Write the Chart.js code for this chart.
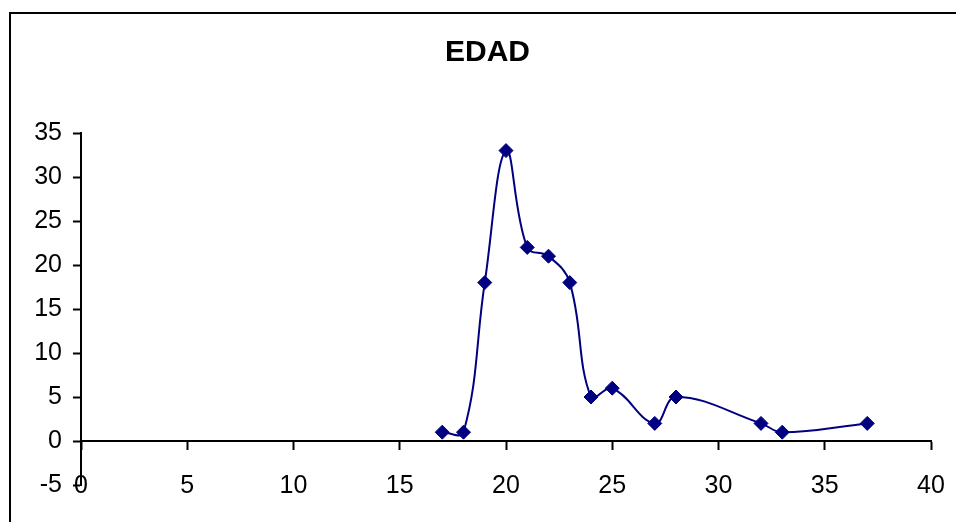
<!DOCTYPE html>
<html>
<head>
<meta charset="utf-8">
<script src="https://cdn.jsdelivr.net/npm/chart.js@4.4.1/dist/chart.umd.min.js"></script>
<style>
    html, body { margin: 0; padding: 0; background: #fff; overflow: hidden; }
    #frame { position: absolute; left: 9px; top: 12px; width: 1100px; height: 700px; border: 2px solid #000; }
    #wrap { position: absolute; left: 0; top: 0; width: 956px; height: 522px; }
</style>
</head>
<body>
<div id="frame"></div>
<div id="wrap"><canvas id="chart" width="956" height="522"></canvas></div>
<script>
// EDAD - values
const edades = [17, 18, 19, 20, 21, 22, 23, 24, 25, 27, 28, 32, 33, 37];
const frecuencias = [1, 1, 18, 33, 22, 21, 18, 5, 6, 2, 5, 2, 1, 2];
const xTicks = [0, 5, 10, 15, 20, 25, 30, 35, 40];
const yTicks = [-5, 0, 5, 10, 15, 20, 25, 30, 35];

const NAVY = '#000080';
const FONT = '"Liberation Sans", Arial, sans-serif';

// no automatic label overflow padding, the layout padding handles it
function noPadding(scale) {
    scale.paddingLeft = 0;
    scale.paddingRight = 0;
    scale.paddingTop = 0;
    scale.paddingBottom = 0;
}

const points = edades.map((e, i) => ({ x: e, y: frecuencias[i] }));

new Chart(document.getElementById('chart'), {
    type: 'scatter',
    data: {
        datasets: [{
            label: 'EDAD',
            data: points,
            showLine: true,
            borderColor: NAVY,
            borderWidth: 2,
            tension: 0.4,
            pointStyle: 'rectRot',
            pointRadius: 7,
            pointBackgroundColor: NAVY,
            pointBorderColor: NAVY,
            pointBorderWidth: 1
        }]
    },
    options: {
        responsive: false,
        animation: false,
        layout: { padding: { left: 32, right: 13, top: 10, bottom: 37 } },
        plugins: {
            legend: { display: false },
            tooltip: { enabled: false },
            title: {
                display: true,
                text: 'EDAD',
                color: '#000',
                font: { family: FONT, size: 30, weight: 'bold' },
                padding: { top: 24.5, bottom: 62.5 }
            }
        },
        scales: {
            x: {
                type: 'linear',
                position: { y: 0 },
                min: xTicks[0],
                max: xTicks[xTicks.length - 1],
                afterBuildTicks: (s) => { s.ticks = xTicks.map(v => ({ value: v })); },
                afterFit: noPadding,
                ticks: { color: '#000', font: { family: FONT, size: 25 }, padding: 22, maxRotation: 0 },
                grid: { drawOnChartArea: false, drawTicks: true, tickLength: 8, color: '#000', tickWidth: 2 },
                border: { display: true, color: '#000', width: 2 }
            },
            y: {
                type: 'linear',
                position: 'left',
                min: yTicks[0],
                max: yTicks[yTicks.length - 1],
                afterBuildTicks: (s) => { s.ticks = yTicks.map(v => ({ value: v })); },
                afterFit: (s) => { noPadding(s); s.width = 49; },
                ticks: { color: '#000', font: { family: FONT, size: 25 }, padding: 11 },
                grid: { drawOnChartArea: false, drawTicks: true, tickLength: 8, color: '#000', tickWidth: 2 },
                border: { display: true, color: '#000', width: 2 }
            },
            // empty spacer on the right so the plot ends at 40 where the reference does
            spacer: {
                type: 'linear',
                position: 'right',
                afterFit: (s) => { noPadding(s); s.width = 12; },
                ticks: { display: false },
                grid: { display: false },
                border: { display: false }
            }
        }
    }
});
</script>
</body>
</html>
